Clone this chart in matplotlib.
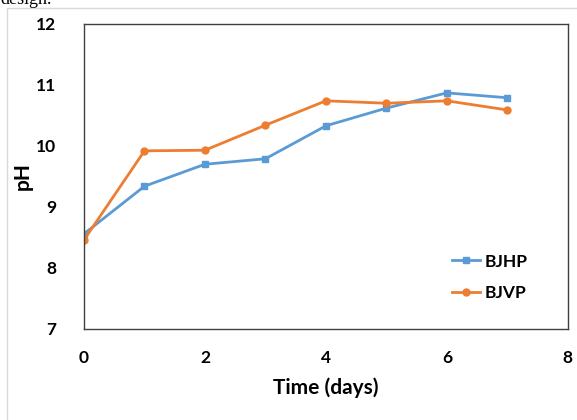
import matplotlib
matplotlib.use("Agg")
import matplotlib.pyplot as plt
from matplotlib.patches import Rectangle

days = [0, 1, 2, 3, 4, 5, 6, 7]
bjhp = [8.56, 9.34, 9.70, 9.79, 10.33, 10.62, 10.87, 10.79]
bjvp = [8.46, 9.92, 9.93, 10.34, 10.74, 10.70, 10.74, 10.59]
xticks = [0, 2, 4, 6, 8]
yticks = [7, 8, 9, 10, 11, 12]

plt.rcParams['font.family'] = ['Lato', 'DejaVu Sans']

fig = plt.figure(figsize=(5.77, 4.2), dpi=100)
ax = fig.add_axes([0.1456, 0.2167, 0.8384, 0.7263])

# outer chart frame from the document screenshot
fig.patches.append(Rectangle((0.012, -0.01), 1.0, 0.99, transform=fig.transFigure,
                             fill=False, edgecolor='#d9d9d9', linewidth=1))
fig.text(0.0, 1.0, "design.", family='Liberation Serif', fontsize=13, va='center', ha='left')

ax.plot(days, bjhp, color='#5B9BD5', marker='s', markersize=5, linewidth=2, label='BJHP')
ax.plot(days, bjvp, color='#ED7D31', marker='o', markersize=5, linewidth=2, label='BJVP')

ax.set_xlim(0, 8)
ax.set_ylim(7, 12)
ax.set_xticks(xticks)
ax.set_yticks(yticks)
ax.tick_params(length=0, labelsize=12.5)
ax.tick_params(axis='x', pad=15)
ax.tick_params(axis='y', pad=20)
for lab in ax.get_xticklabels() + ax.get_yticklabels():
    lab.set_fontweight('bold')
for s in ax.spines.values():
    s.set_color('#404040')
    s.set_linewidth(1)

ax.set_xlabel('Time (days)', fontsize=15, fontweight='bold', labelpad=8)
ax.set_ylabel('pH', fontsize=15, fontweight='bold', labelpad=2)

leg = ax.legend(loc='lower right', bbox_to_anchor=(0.95, 0.04), frameon=False,
                prop={'weight': 'bold', 'size': 12.5}, handlelength=1.6,
                handletextpad=0.3, labelspacing=0.9)

fig.savefig('out.png', dpi=100)
